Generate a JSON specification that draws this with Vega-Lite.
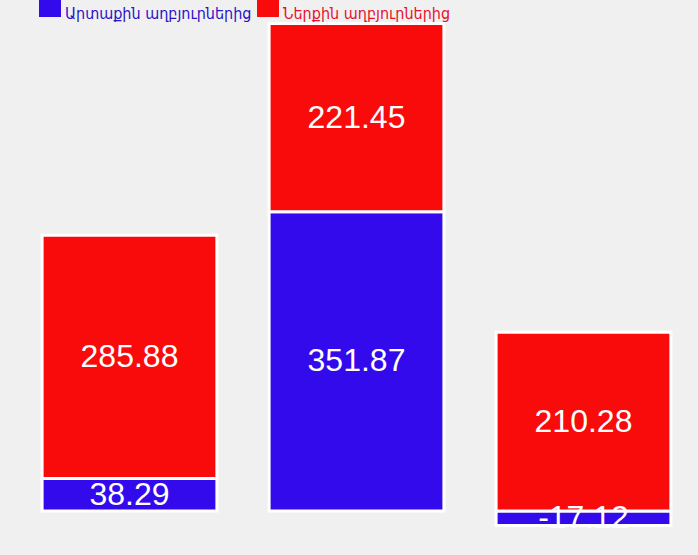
{
  "$schema": "https://vega.github.io/schema/vega-lite/v6.json",
  "width": 698,
  "height": 555,
  "padding": 0,
  "autosize": {"type": "fit", "contains": "padding"},
  "background": "#f0f0f0",
  "config": {"view": {"stroke": null}},
  "data": {
    "values": [
      {"group": "1", "series": "Արտաքին աղբյուրներից", "value": 38.29},
      {"group": "1", "series": "Ներքին աղբյուրներից", "value": 285.88},
      {"group": "2", "series": "Արտաքին աղբյուրներից", "value": 351.87},
      {"group": "2", "series": "Ներքին աղբյուրներից", "value": 221.45},
      {"group": "3", "series": "Արտաքին աղբյուրներից", "value": -17.12},
      {"group": "3", "series": "Ներքին աղբյուրներից", "value": 210.28}
    ]
  },
  "encoding": {
    "x": {
      "field": "group",
      "type": "nominal",
      "axis": null,
      "scale": {"range": [16, 697], "paddingInner": 0.23, "paddingOuter": 0.115}
    },
    "y": {
      "field": "value",
      "type": "quantitative",
      "stack": "zero",
      "axis": null,
      "scale": {"domain": [-51.8, 601], "nice": false, "zero": false}
    },
    "order": {"field": "series", "sort": "ascending"}
  },
  "layer": [
    {
      "mark": {"type": "bar", "stroke": "white", "strokeWidth": 3},
      "encoding": {
        "color": {
          "field": "series",
          "type": "nominal",
          "scale": {
            "domain": ["Արտաքին աղբյուրներից", "Ներքին աղբյուրներից"],
            "range": ["#330aeb", "#f90b0b"]
          },
          "legend": {
            "orient": "none",
            "legendX": 39,
            "legendY": -5,
            "direction": "horizontal",
            "title": null,
            "symbolType": "square",
            "symbolSize": 484,
            "symbolStrokeWidth": 0,
            "symbolOpacity": 1,
            "labelFont": "DejaVu Sans Condensed",
            "labelFontSize": 16,
            "labelBaseline": "top",
            "labelLimit": 400,
            "labelOffset": 4,
            "columnPadding": 5,
            "labelColor": {"expr": "datum.value === 'Ներքին աղբյուրներից' ? '#e8102a' : '#2a12c8'"}
          }
        }
      }
    },
    {
      "mark": {"type": "text", "color": "white", "font": "Liberation Sans", "fontSize": 32, "baseline": "middle", "align": "center"},
      "encoding": {
        "y": {"field": "value", "type": "quantitative", "stack": "zero", "bandPosition": 0.5},
        "text": {"field": "value", "type": "nominal"}
      }
    }
  ]
}
